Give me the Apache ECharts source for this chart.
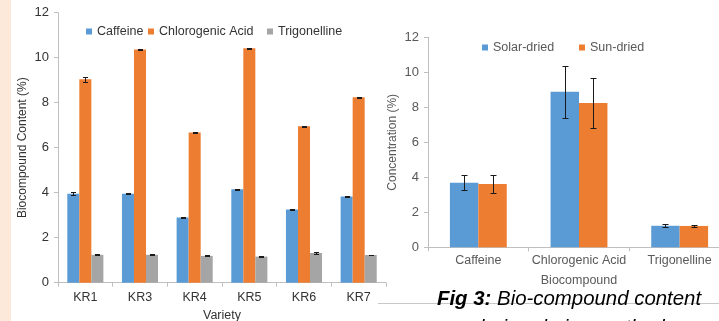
<!DOCTYPE html>
<html><head><meta charset="utf-8">
<script src="https://cdn.jsdelivr.net/npm/echarts@6/dist/echarts.min.js"></script>
<style>html,body{margin:0;padding:0;background:#fff}#c{width:719px;height:321px}</style>
</head><body><div id="c"></div>
<script>
// ---- Left chart data ----
const varieties = ['KR1', 'KR3', 'KR4', 'KR5', 'KR6', 'KR7'];
const caffeine = [3.95, 3.95, 2.90, 4.15, 3.25, 3.83];
const caffeineErr = [0.07, 0.02, 0.02, 0.02, 0.02, 0.03];
const chlorogenic = [9.04, 10.37, 6.68, 10.42, 6.95, 8.24];
const chlorogenicErr = [0.11, 0.02, 0.02, 0.02, 0.03, 0.02];
const trigonelline = [1.24, 1.24, 1.19, 1.16, 1.32, 1.23];
const trigonellineErr = [0.02, 0.02, 0.02, 0.02, 0.03, 0.02];
// ---- Right chart data ----
const compounds = ['Caffeine', 'Chlorogenic Acid', 'Trigonelline'];
const solarDried = [3.69, 8.89, 1.23];
const solarErr = [0.42, 1.49, 0.08];
const sunDried = [3.62, 8.25, 1.22];
const sunErr = [0.50, 1.43, 0.05];
// ---- Axis ticks ----
const yMin = 0, yMax = 12, yStep = 2;

const FONT = '"Liberation Sans", Arial, sans-serif';
const BLUE = '#5B9BD5', ORANGE = '#ED7D31', GRAY = '#A5A5A5';
const LEFT_GAP = 0.34, RIGHT_GAP = 0.435;

function errRender(n, i, gap, cap) {
  return function (params, api) {
    const idx = api.value(0), v = api.value(1), e = api.value(2);
    const band = api.size([1, 0])[0];
    const bw = band * (1 - gap) / n;
    const x = Math.round(api.coord([idx, v])[0] + (i - (n - 1) / 2) * bw) + 0.5;
    const yh = Math.round(api.coord([idx, v + e])[1]) + 0.5;
    const yl = Math.round(api.coord([idx, v - e])[1]) + 0.5;
    const st = { stroke: '#1a1a1a', lineWidth: 1 };
    return { type: 'group', children: [
      { type: 'line', shape: { x1: x, y1: yh, x2: x, y2: yl }, style: st },
      { type: 'line', shape: { x1: x - cap, y1: yh, x2: x + cap, y2: yh }, style: st },
      { type: 'line', shape: { x1: x - cap, y1: yl, x2: x + cap, y2: yl }, style: st }
    ]};
  };
}
function errData(vals, errs) { return vals.map((v, k) => [k, v, errs[k]]); }

function yAxis(grid, name, gap, col) {
  return {
    type: 'value', gridIndex: grid, min: yMin, max: yMax, interval: yStep,
    name: name, nameLocation: 'middle', nameGap: gap, nameRotate: 90,
    nameTextStyle: { fontFamily: FONT, fontSize: 12, color: col },
    axisLine: { show: true, lineStyle: { color: '#BFBFBF' } },
    axisTick: { show: true, length: 4, lineStyle: { color: '#BFBFBF' } },
    axisLabel: { fontFamily: FONT, fontSize: 13, color: col, margin: 9 },
    splitLine: { show: false }
  };
}
function xAxis(grid, data, name, gap, col, margin) {
  return {
    type: 'category', gridIndex: grid, data: data,
    name: name, nameLocation: 'middle', nameGap: gap,
    nameTextStyle: { fontFamily: FONT, fontSize: 12.5, color: col },
    axisLine: { show: true, lineStyle: { color: '#BFBFBF' } },
    axisTick: { show: true, length: 4, lineStyle: { color: '#BFBFBF' } },
    axisLabel: { fontFamily: FONT, fontSize: 12.5, color: col, margin: margin, interval: 0 },
    splitLine: { show: false }
  };
}
function leg(name, left, top, col) {
  return { data: [name], left: left, top: top, padding: 0, itemWidth: 6, itemHeight: 6,
    icon: 'rect', textStyle: { fontFamily: FONT, fontSize: 12.5, color: col } };
}

const chart = echarts.init(document.getElementById('c'), null, { renderer: 'canvas' });
chart.setOption({
  animation: false,
  backgroundColor: '#ffffff',
  grid: [
    { left: 58, right: 719 - 386, top: 12.7, bottom: 321 - 282.7, containLabel: false, outerBoundsMode: 'none' },
    { left: 428, right: -11, top: 37.3, bottom: 321 - 247.3, containLabel: false, outerBoundsMode: 'none' }
  ],
  xAxis: [
    xAxis(0, varieties, 'Variety', 26, '#333333', 8.5),
    xAxis(1, compounds, 'Biocompound', 27, '#595959', 7)
  ],
  yAxis: [
    yAxis(0, 'Biocompound Content (%)', 29, '#333333'),
    yAxis(1, 'Concentration (%)', 29, '#595959')
  ],
  legend: [
    leg('Caffeine', 86, 25, '#333333'),
    leg('Chlorogenic Acid', 148, 25, '#333333'),
    leg('Trigonelline', 267, 25, '#333333'),
    leg('Solar-dried', 482, 41, '#595959'),
    leg('Sun-dried', 579, 41, '#595959')
  ],
  series: [
    { name: 'Caffeine', type: 'bar', xAxisIndex: 0, yAxisIndex: 0, data: caffeine,
      barGap: 0, barCategoryGap: (LEFT_GAP * 100) + '%', itemStyle: { color: BLUE } },
    { name: 'Chlorogenic Acid', type: 'bar', xAxisIndex: 0, yAxisIndex: 0, data: chlorogenic,
      barGap: 0, barCategoryGap: (LEFT_GAP * 100) + '%', itemStyle: { color: ORANGE } },
    { name: 'Trigonelline', type: 'bar', xAxisIndex: 0, yAxisIndex: 0, data: trigonelline,
      barGap: 0, barCategoryGap: (LEFT_GAP * 100) + '%', itemStyle: { color: GRAY } },
    { name: 'Solar-dried', type: 'bar', xAxisIndex: 1, yAxisIndex: 1, data: solarDried,
      barGap: 0, barCategoryGap: (RIGHT_GAP * 100) + '%', itemStyle: { color: BLUE } },
    { name: 'Sun-dried', type: 'bar', xAxisIndex: 1, yAxisIndex: 1, data: sunDried,
      barGap: 0, barCategoryGap: (RIGHT_GAP * 100) + '%', itemStyle: { color: ORANGE } },
    { name: 'e1', type: 'custom', xAxisIndex: 0, yAxisIndex: 0, z: 5, encode: { x: 0, y: 1 },
      renderItem: errRender(3, 0, LEFT_GAP, 2.5), data: errData(caffeine, caffeineErr) },
    { name: 'e2', type: 'custom', xAxisIndex: 0, yAxisIndex: 0, z: 5, encode: { x: 0, y: 1 },
      renderItem: errRender(3, 1, LEFT_GAP, 2.5), data: errData(chlorogenic, chlorogenicErr) },
    { name: 'e3', type: 'custom', xAxisIndex: 0, yAxisIndex: 0, z: 5, encode: { x: 0, y: 1 },
      renderItem: errRender(3, 2, LEFT_GAP, 2.5), data: errData(trigonelline, trigonellineErr) },
    { name: 'e4', type: 'custom', xAxisIndex: 1, yAxisIndex: 1, z: 5, encode: { x: 0, y: 1 },
      renderItem: errRender(2, 0, RIGHT_GAP, 3), data: errData(solarDried, solarErr) },
    { name: 'e5', type: 'custom', xAxisIndex: 1, yAxisIndex: 1, z: 5, encode: { x: 0, y: 1 },
      renderItem: errRender(2, 1, RIGHT_GAP, 3), data: errData(sunDried, sunErr) }
  ],
  graphic: [
    { type: 'rect', left: 0, top: 0, shape: { width: 11, height: 321 }, style: { fill: '#FCE9DA' }, z: -10, silent: true },
    { type: 'line', shape: { x1: 378, y1: 303.5, x2: 719, y2: 303.5 }, style: { stroke: '#C8C8C8', lineWidth: 1 }, z: 1, silent: true },
    { type: 'text', x: 437, y: 299, z: 10, silent: true,
      style: { text: '{b|Fig 3:}{i| Bio-compound content}', verticalAlign: 'middle', align: 'left',
        rich: {
          b: { fontFamily: FONT, fontSize: 20.4, fontWeight: 'bold', fontStyle: 'italic', fill: '#000' },
          i: { fontFamily: FONT, fontSize: 20.4, fontStyle: 'italic', fill: '#000' }
        } } },
    { type: 'text', x: 574, y: 328, z: 10, silent: true,
      style: { text: 'during drying methods', align: 'center', verticalAlign: 'middle',
        fontFamily: FONT, fontSize: 20.4, fontStyle: 'italic', fill: '#000' } }
  ]
});
</script></body></html>
